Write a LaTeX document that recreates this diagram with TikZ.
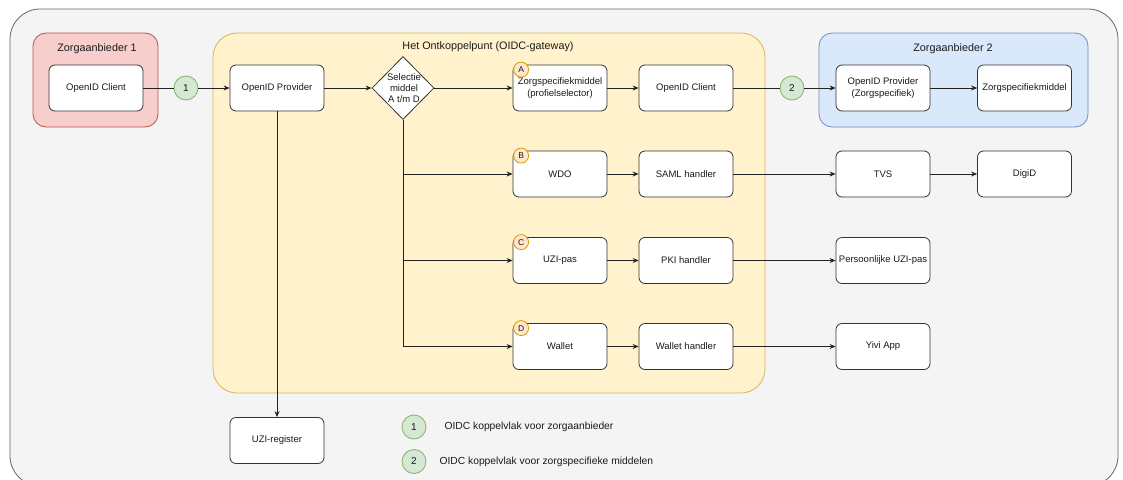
\documentclass[tikz,border=0pt]{standalone}
\usepackage{fontspec}
\setmainfont{Liberation Sans}
\usetikzlibrary{shapes.geometric,arrows.meta,calc}
\definecolor{outerfill}{HTML}{F4F4F4}
\definecolor{outerline}{HTML}{666666}
\definecolor{redfill}{HTML}{F8CECC}
\definecolor{redline}{HTML}{B85450}
\definecolor{yelfill}{HTML}{FFF2CC}
\definecolor{yelline}{HTML}{D6B656}
\definecolor{bluefill}{HTML}{DAE8FC}
\definecolor{blueline}{HTML}{6C8EBF}
\definecolor{grnfill}{HTML}{D5E8D4}
\definecolor{grnline}{HTML}{82B366}
\definecolor{orgfill}{HTML}{FFE6CC}
\definecolor{orgline}{HTML}{D79B00}
\definecolor{boxline}{HTML}{333333}
\definecolor{lnk}{HTML}{222222}
\definecolor{txt}{HTML}{1A1A1A}
\begin{document}
\begin{tikzpicture}[x=1pt,y=-1pt,
  box/.style={draw=boxline, fill=white, rounded corners=6pt, minimum width=94pt, minimum height=46pt, inner sep=1pt, align=center, font=\fontsize{9.5}{11.5}\selectfont, line width=0.8pt, text=txt},
  num/.style={circle, draw=grnline, fill=grnfill, minimum size=24pt, inner sep=0pt, font=\fontsize{10}{12}\selectfont, line width=0.8pt, text=txt},
  badge/.style={circle, draw=orgline, fill=orgfill, minimum size=15pt, inner sep=0pt, font=\fontsize{8.5}{10}\selectfont, line width=0.8pt, text=txt},
  dia/.style={diamond, draw=boxline, fill=white, minimum width=62pt, minimum height=63pt, inner sep=0pt, line width=0.8pt},
  title/.style={font=\fontsize{10.8}{13}\selectfont, text=txt},
  legend/.style={font=\fontsize{10.3}{12}\selectfont, text=txt, anchor=west},
  arr/.style={-{Stealth[length=6pt,width=5pt]}, line width=0.8pt, draw=lnk},
  ln/.style={line width=0.8pt, draw=lnk}]
\useasboundingbox (0,0) rectangle (1123,479);
\clip (0,0) rectangle (1123,479);
\fill[white] (0,0) rectangle (1123,479);
% frames
\draw[fill=outerfill, draw=outerline, line width=0.8pt, rounded corners=30pt] (10,9) rectangle (1118,486);
\draw[fill=redfill, draw=redline, line width=0.8pt, rounded corners=13pt] (33,33) rectangle (158,127);
\draw[fill=yelfill, draw=yelline, line width=0.8pt, rounded corners=24pt] (213,33) rectangle (765,393);
\draw[fill=bluefill, draw=blueline, line width=0.8pt, rounded corners=13pt] (819,33) rectangle (1088,127);
\node[title] (t1) at (97,49) {Zorgaanbieder 1};
\node[title] (t0) at (488,47) {Het Ontkoppelpunt (OIDC-gateway)};
\node[title] (t2) at (953,49) {Zorgaanbieder 2};
% nodes
\node[box] (c1) at (96,88) {OpenID Client};
\node[num] (n1) at (186,88) {1};
\node[box] (op) at (277,88) {OpenID Provider};
\node[dia] (sel) at (403,88) {};
\node[font=\fontsize{9.5}{11}\selectfont, align=center, text=txt, inner sep=0pt] (selt) at (404,88) {Selectie\\middel\\A t/m D};
\node[box] (A) at (560,88) {Zorgspecifiekmiddel\\(profielselector)};
\node[box] (ci) at (686,88) {OpenID Client};
\node[num] (n2) at (792,88) {2};
\node[box] (opz) at (883,88) {OpenID Provider\\(Zorgspecifiek)};
\node[box] (zsm) at (1024.5,88) {Zorgspecifiekmiddel};
\node[box] (B) at (560,174) {WDO};
\node[box] (saml) at (686,174) {SAML handler};
\node[box] (tvs) at (883,174) {TVS};
\node[box] (digid) at (1024.5,174) {DigiD};
\node[box] (C) at (560,260.5) {UZI-pas};
\node[box] (pki) at (686,260.5) {PKI handler};
\node[box] (pers) at (883,260.5) {Persoonlijke UZI-pas};
\node[box] (D) at (560,346.5) {Wallet};
\node[box] (wh) at (686,346.5) {Wallet handler};
\node[box] (yivi) at (883,346.5) {Yivi App};
\node[box] (uzi) at (277,440.5) {UZI-register};
% badges
\node[badge] (bA) at ($(A.north west)+(8.5,5)$) {A};
\node[badge] (bB) at ($(B.north west)+(8.5,5)$) {B};
\node[badge] (bC) at ($(C.north west)+(8.5,5)$) {C};
\node[badge] (bD) at ($(D.north west)+(8.5,5)$) {D};
% legend
\node[num] (l1) at (414,427) {1};
\node[num] (l2) at (414,461.5) {2};
\node[legend] (lt1) at (441,427) {OIDC koppelvlak voor zorgaanbieder};
\node[legend] (lt2) at (436,461.5) {OIDC koppelvlak voor zorgspecifieke middelen};
% connectors
\draw[ln] (c1) -- (n1);
\draw[arr] (n1) -- (op);
\draw[arr] (op) -- (sel);
\draw[arr] (sel) -- (A);
\draw[arr] (A) -- (ci);
\draw[ln] (ci) -- (n2);
\draw[arr] (n2) -- (opz);
\draw[arr] (opz) -- (zsm);
\draw[arr] (sel.south) |- (D.west);
\draw[arr] (sel.south |- B.west) -- (B.west);
\draw[arr] (sel.south |- C.west) -- (C.west);
\draw[arr] (B) -- (saml);
\draw[arr] (saml) -- (tvs);
\draw[arr] (tvs) -- (digid);
\draw[arr] (C) -- (pki);
\draw[arr] (pki) -- (pers);
\draw[arr] (D) -- (wh);
\draw[arr] (wh) -- (yivi);
\draw[arr] (op) -- (uzi);
\end{tikzpicture}
\end{document}
